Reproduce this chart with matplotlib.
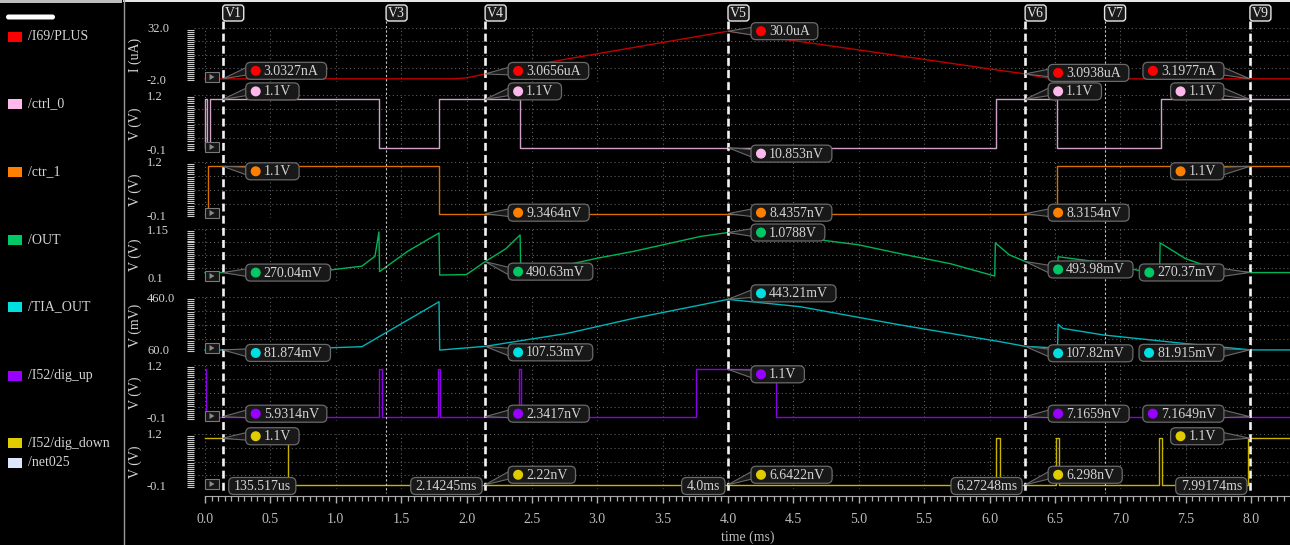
import numpy as np
import matplotlib
matplotlib.use("Agg")
import matplotlib.pyplot as plt
from matplotlib.patches import FancyBboxPatch, Rectangle, Polygon, Circle
from matplotlib.ticker import FixedLocator

plt.rcParams['font.family'] = ['Liberation Serif', 'DejaVu Serif']

# ---- waveform breakpoints (time in ms) ----
i69_t = [0.0, 1.90, 2.00, 2.142, 2.77, 4.0, 5.0, 6.03, 6.273, 6.40, 6.50, 8.3]
i69_v = [0.003, 0.003, 0.6, 3.07, 12.5, 30.0, 18.2, 5.9, 3.09, 1.0, 0.003, 0.003]

ctrl0_t = [0.0, 0.0, 0.015, 0.015, 0.04, 0.04, 1.33, 1.33, 1.79, 1.79, 2.41, 2.41,
           6.05, 6.05, 6.52, 6.52, 7.31, 7.31, 8.3]
ctrl0_v = [0.0, 1.1, 1.1, 0.0, 0.0, 1.1, 1.1, 0.0, 0.0, 1.1, 1.1, 0.0,
           0.0, 1.1, 1.1, 0.0, 0.0, 1.1, 1.1]

ctr1_t = [0.0, 0.025, 0.025, 1.79, 1.79, 6.52, 6.52, 8.3]
ctr1_v = [0.0, 0.0, 1.1, 1.1, 0.0, 0.0, 1.1, 1.1]

out_t = [0.0, 0.13, 0.73, 0.95, 1.20, 1.30, 1.33, 1.335, 1.55, 1.79, 1.795, 2.00, 2.142,
         2.30, 2.41, 2.415, 2.64, 3.0, 3.28, 3.79, 4.0, 4.5, 5.0, 5.32, 5.7, 6.04, 6.045,
         6.15, 6.273, 6.40, 6.52, 6.525, 6.87, 7.30, 7.305, 7.5, 7.74, 8.0, 8.3]
out_v = [0.27, 0.27, 0.26, 0.32, 0.40, 0.60, 1.09, 0.29, 0.70, 1.07, 0.22, 0.23, 0.49,
         0.75, 1.03, 0.26, 0.35, 0.56, 0.70, 1.0, 1.079, 1.0, 0.83, 0.65, 0.45, 0.20, 0.87,
         0.63, 0.494, 0.38, 0.29, 0.59, 0.47, 0.22, 0.87, 0.55, 0.33, 0.27, 0.27]

tia_t = [0.0, 0.13, 0.73, 1.20, 1.79, 1.795, 2.142, 2.77, 3.28, 3.79, 4.0, 4.55, 5.32,
         6.08, 6.273, 6.52, 6.525, 6.56, 6.87, 7.48, 8.0, 8.3]
tia_v = [80.0, 81.9, 90.0, 105.0, 426.0, 81.0, 107.5, 200.0, 308.0, 403.0, 443.2, 391.0, 260.0,
         141.0, 107.8, 95.0, 265.0, 236.0, 189.0, 129.0, 81.9, 81.9]

digup_t = [0.0, 0.005, 0.005, 1.33, 1.33, 1.35, 1.35, 1.78, 1.78, 1.80, 1.80, 2.40, 2.40,
           2.42, 2.42, 3.755, 3.755, 4.37, 4.37, 8.3]
digup_v = [1.1, 1.1, 0.0, 0.0, 1.1, 1.1, 0.0, 0.0, 1.1, 1.1, 0.0, 0.0, 1.1,
           1.1, 0.0, 0.0, 1.1, 1.1, 0.0, 0.0]

digdn_t = [0.0, 0.635, 0.635, 6.05, 6.05, 6.08, 6.08, 6.51, 6.51, 6.53, 6.53, 7.30, 7.30,
           7.32, 7.32, 7.98, 7.98, 8.3]
digdn_v = [1.1, 1.1, 0.0, 0.0, 1.1, 1.1, 0.0, 0.0, 1.1, 1.1, 0.0, 0.0, 1.1,
           1.1, 0.0, 0.0, 1.1, 1.1]

signal_names = ["/I69/PLUS", "/ctrl_0", "/ctr_1", "/OUT", "/TIA_OUT", "/I52/dig_up",
                "/I52/dig_down", "/net025"]
y_units = ["I (uA)", "V (V)", "V (V)", "V (V)", "V (mV)", "V (V)", "V (V)"]
y_ranges = [(-2.0, 32.0), (-0.1, 1.2), (-0.1, 1.2), (0.1, 1.15), (60.0, 460.0),
            (-0.1, 1.2), (-0.1, 1.2)]
y_range_text = [("32.0", "-2.0"), ("1.2", "-0.1"), ("1.2", "-0.1"), ("1.15", "0.1"),
                ("460.0", "60.0"), ("1.2", "-0.1"), ("1.2", "-0.1")]

marker_names = ["V1", "V3", "V4", "V5", "V6", "V7", "V9"]
marker_times = [0.135517, 1.385, 2.14245, 4.0, 6.27248, 6.88, 7.99174]
marker_solid = [True, False, True, True, True, False, True]

# readouts at V1, V4, V5, V6, V9
readout_markers = ["V1", "V4", "V5", "V6", "V9"]
time_readouts = ["135.517us", "2.14245ms", "4.0ms", "6.27248ms", "7.99174ms"]
i69_read = ["3.0327nA", "3.0656uA", "30.0uA", "3.0938uA", "3.1977nA"]
ctrl0_read = ["1.1V", "1.1V", "10.853nV", "1.1V", "1.1V"]
ctr1_read = ["1.1V", "9.3464nV", "8.4357nV", "8.3154nV", "1.1V"]
out_read = ["270.04mV", "490.63mV", "1.0788V", "493.98mV", "270.37mV"]
tia_read = ["81.874mV", "107.53mV", "443.21mV", "107.82mV", "81.915mV"]
digup_read = ["5.9314nV", "2.3417nV", "1.1V", "7.1659nV", "7.1649nV"]
digdn_read = ["1.1V", "2.22nV", "6.6422nV", "6.298nV", "1.1V"]

traces_t = [i69_t, ctrl0_t, ctr1_t, out_t, tia_t, digup_t, digdn_t]
traces_v = [i69_v, ctrl0_v, ctr1_v, out_v, tia_v, digup_v, digdn_v]
readouts = [i69_read, ctrl0_read, ctr1_read, out_read, tia_read, digup_read, digdn_read]

# ---- styling / layout ----
legend_colors = ['#ff0000', '#ffb8ec', '#ff8000', '#00c864', '#00e0e0', '#9a00ff', '#e0cc00', '#dce6ff']
trace_colors = ['#c00000', '#cfa0c8', '#d87000', '#00b455', '#00b4b8', '#8c00e6', '#c8b400']
legend_y = [37, 104, 172, 240, 307, 376, 443, 463]
strip_top = [28, 95, 162, 229, 297, 365, 434]
strip_h = [54, 57, 56, 52, 56, 56, 55]
readout_side = [1, 1, 1, 1, -1]
readout_dy = [
    [-8, -3, 0, -1, -8],
    [-8, -8, 6, -8, -8],
    [5, -1, -1, -1, 5],
    [0, 10, 0, 8, 0],
    [3, 6, -6, 7, 3],
    [-3, -3, 5, -3, -3],
    [-2, -10, -10, -10, -2],
]
time_side = [1, -1, -1, -1, -1]

W, H = 1290, 545
X0, PX_MS = 205, 130.75
AX_LEFT = 194
T_LEFT, T_RIGHT = (AX_LEFT - X0) / PX_MS, (W - X0) / PX_MS
TXT = '#d4d4d4'
BOX_FC, BOX_EC = '#181818', '#6a6a6a'
FS = 10

fig = plt.figure(figsize=(W / 100, H / 100), dpi=100, facecolor='black')


def px_axes(x0, y0, w, h):
    return fig.add_axes([x0 / W, 1 - (y0 + h) / H, w / W, h / H])


strips = []
for i in range(7):
    ax = px_axes(AX_LEFT, strip_top[i], W - AX_LEFT, strip_h[i])
    ax.set_facecolor('none')
    lo, hi = y_ranges[i]
    ax.set_xlim(T_LEFT, T_RIGHT)
    ax.set_ylim(lo, hi)
    for s in ax.spines.values():
        s.set_visible(False)
    ax.xaxis.set_major_locator(FixedLocator(np.arange(0, 8.3, 0.5)))
    ax.yaxis.set_major_locator(FixedLocator(np.linspace(lo, hi, 5)))
    ax.yaxis.set_minor_locator(FixedLocator(np.linspace(lo, hi, 28)))
    ax.tick_params(axis='x', length=0, labelbottom=False)
    ax.tick_params(axis='y', which='major', length=0, labelleft=False)
    ax.tick_params(axis='y', which='minor', length=5, width=0.8, color='#cccccc', direction='out')
    ax.grid(True, which='major', color='#5e5e5e', ls=(0, (1, 2.5)), lw=0.8)
    ax.plot(traces_t[i], traces_v[i], color=trace_colors[i], lw=1.0, zorder=3)
    strips.append(ax)

# time axis
axt = px_axes(AX_LEFT, 494, W - AX_LEFT, 2)
axt.set_facecolor('none')
axt.set_xlim(T_LEFT, T_RIGHT)
axt.set_yticks([])
for k in ['top', 'left', 'right']:
    axt.spines[k].set_visible(False)
axt.spines['bottom'].set_color('#a8a8a8')
axt.spines['bottom'].set_bounds(0, 8.3)
axt.xaxis.set_major_locator(FixedLocator(np.arange(0, 8.01, 0.5)))
axt.xaxis.set_minor_locator(FixedLocator(np.arange(0, 8.31, 0.05)))
axt.set_xticklabels([f"{v:.1f}" for v in np.arange(0, 8.01, 0.5)])
axt.tick_params(axis='x', which='major', length=5, width=1.0, color='#b0b0b0', labelcolor='#bcbcbc',
                labelsize=FS, pad=7.5)
axt.tick_params(axis='x', which='minor', length=3.5, width=0.9, color='#b0b0b0')

# overlay in pixel coordinates
ov = fig.add_axes([0, 0, 1, 1], zorder=10)
ov.set_xlim(0, W)
ov.set_ylim(H, 0)
ov.axis('off')
ov.patch.set_alpha(0)
renderer = fig.canvas.get_renderer()


def to_px(ax, t, v):
    d = ax.transData.transform((t, v))
    return d[0], H - d[1]


def text_w(s):
    t = ov.text(0, 0, s, fontsize=FS)
    w = t.get_window_extent(renderer).width
    t.remove()
    return w


# legend panel
ov.add_patch(Rectangle((0, 0), 122, 2.7, fc='#bdbdbd', ec='none'))
ov.add_patch(Rectangle((123, 0), W - 123, 1.6, fc='#e6e6e6', ec='none'))
ov.plot([123.5, 123.5], [0, H], color='#9a9a9a', lw=1.0)
ov.add_patch(FancyBboxPatch((6, 14.5), 49, 5, boxstyle='round,pad=0,rounding_size=2.5',
                            fc='white', ec='none'))
for name, c, y in zip(signal_names, legend_colors, legend_y):
    ov.add_patch(Rectangle((8, y - 5), 14, 10, fc=c, ec='none'))
    ov.text(28, y, name, color=TXT, fontsize=FS, va='center', ha='left')

# strip labels and handles
for i, ax in enumerate(strips):
    top, bot = strip_top[i], strip_top[i] + strip_h[i]
    ov.text(147, top + 1.5, y_range_text[i][0], color=TXT, fontsize=9, va='center', ha='left')
    ov.text(147, bot - 1.5, y_range_text[i][1], color=TXT, fontsize=9, va='center', ha='left')
    ov.text(135, (top + bot) / 2, y_units[i], color=TXT, fontsize=FS, va='center', ha='center',
            rotation=90)
    hy = bot - 5
    ov.add_patch(Rectangle((205, hy - 5), 14, 10, fc='#161616', ec='#7a7a7a', lw=0.8, zorder=4))
    ov.add_patch(Polygon([(209.5, hy - 3), (209.5, hy + 3), (214.5, hy)], fc='#8a8a8a', ec='none', zorder=5))

# marker lines
marker_px = {}
for name, mt, solid in zip(marker_names, marker_times, marker_solid):
    x = to_px(strips[0], mt, 0)[0]
    marker_px[name] = (x, mt)
    if solid:
        ov.plot([x, x], [21, 493], color='#f2f2f2', lw=1.9, ls=(0, (3, 1.6)), zorder=8)
    else:
        ov.plot([x, x], [21, 493], color='#c8c8c8', lw=0.8, ls=(0, (2, 2)), zorder=8)
    ov.add_patch(FancyBboxPatch((x, 5), 21, 16, boxstyle='round,pad=0,rounding_size=3',
                                fc='#1a1a1a', ec='#e8e8e8', lw=1.0, zorder=9))
    ov.text(x + 10.5, 13.5, name, color='#e8e8e8', fontsize=FS, ha='center', va='center', zorder=10)

# value readouts
for i, ax in enumerate(strips):
    for j, mname in enumerate(readout_markers):
        x, mt = marker_px[mname]
        v = np.interp(mt, traces_t[i], traces_v[i])
        _, py = to_px(ax, mt, v)
        txt = readouts[i][j]
        w = text_w(txt) + 26
        by = py + readout_dy[i][j]
        if readout_side[j] > 0:
            bx = x + 23
            edge = bx + 2
        else:
            bx = x - 26 - w
            edge = bx + w - 2
        ov.add_patch(Polygon([(x, py), (edge, by - 4), (edge, by + 4)], closed=True,
                             fc=BOX_FC, ec=BOX_EC, lw=0.8, zorder=11))
        ov.add_patch(FancyBboxPatch((bx, by - 8.5), w, 17, boxstyle='round,pad=0,rounding_size=5',
                                    fc=BOX_FC, ec=BOX_EC, lw=0.9, zorder=12))
        ov.add_patch(Circle((bx + 10, by), 4.3, color=legend_colors[i], zorder=13))
        ov.text(bx + 18, by + 0.5, txt, color=TXT, fontsize=FS, va='center', ha='left', zorder=14)

# time readouts along the bottom strip
for j, mname in enumerate(readout_markers):
    x, mt = marker_px[mname]
    txt = time_readouts[j]
    w = text_w(txt) + 10
    by = 486
    bx = x + 6 if time_side[j] > 0 else x - 3 - w
    ov.add_patch(FancyBboxPatch((bx, by - 8.5), w, 17, boxstyle='round,pad=0,rounding_size=5',
                                fc=BOX_FC, ec=BOX_EC, lw=0.9, zorder=12))
    ov.text(bx + w / 2, by + 0.5, txt, color=TXT, fontsize=FS, va='center', ha='center', zorder=14)

ov.text(748, 537, "time (ms)", color='#bcbcbc', fontsize=FS, ha='center', va='center')

fig.savefig("out.png", dpi=100, facecolor='black')
